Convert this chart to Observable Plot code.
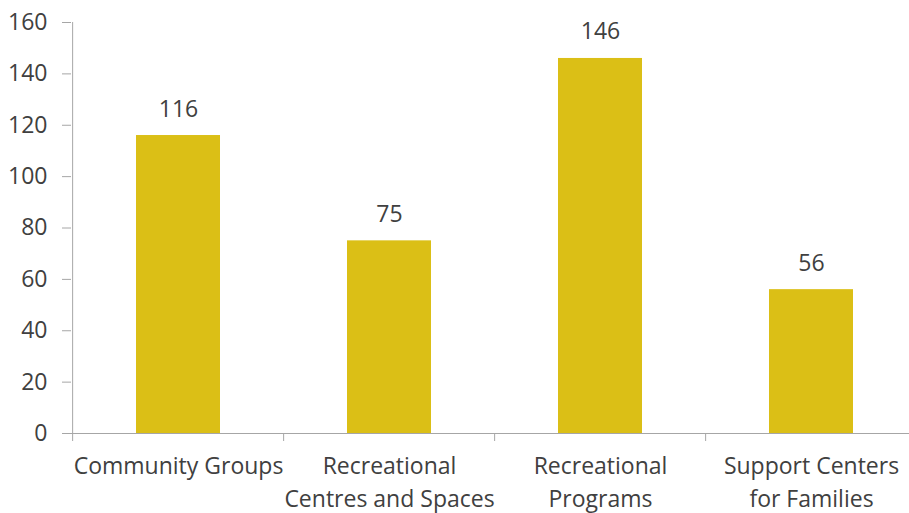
<!DOCTYPE html>
<html><head><meta charset="utf-8">
<script src="https://cdn.jsdelivr.net/npm/d3@7"></script>
<script src="https://cdn.jsdelivr.net/npm/@observablehq/plot@0.6"></script>
<style>
html,body{margin:0;padding:0;background:#fff;overflow:hidden;}
</style></head>
<body><div id="chart"></div>
<script>
const categories = ["Community Groups", "Recreational Centres and Spaces", "Recreational Programs", "Support Centers for Families"];
const tickLabels = ["Community Groups", "Recreational\nCentres and Spaces", "Recreational\nPrograms", "Support Centers\nfor Families"];
const values = [116, 75, 146, 56];
const yTicks = [0, 20, 40, 60, 80, 100, 120, 140, 160];

const data = categories.map((c, i) => ({category: c, value: values[i]}));
const font = "'Open Sans', sans-serif";
const textColor = "#404040";
const axisColor = "#a6a6a6";
const W = 918, ML = 71;
const step = (W - ML) / categories.length;

const chart = Plot.plot({
  width: W,
  height: 513,
  marginLeft: ML,
  marginRight: 0,
  marginTop: 22,
  marginBottom: 80,
  style: {fontFamily: font, color: textColor, background: "#fff", overflow: "visible", maxWidth: "none"},
  x: {type: "band", domain: categories, paddingInner: 0.6, paddingOuter: 0.3, axis: null},
  y: {type: "linear", domain: [0, 160], axis: null},
  marks: [
    Plot.barY(data, {x: "category", y: "value", fill: "#DBBF16"}),
    Plot.text(data, {x: "category", y: "value", text: d => String(d.value), lineAnchor: "bottom", dy: -19, fontSize: 23, fill: textColor}),
    Plot.axisY({ticks: yTicks, tickSize: 9, tickPadding: 15, fontSize: 23, stroke: axisColor, fill: textColor, label: null}),
    Plot.ruleX([categories[0]], {x: d => d, y1: 0, y2: 160, dx: -step / 2, stroke: axisColor}),
    Plot.ruleY([0], {stroke: axisColor}),
    Plot.ruleX(categories, {x: d => d, y1: 0, y2: 0, insetBottom: -8, dx: -step / 2, stroke: axisColor}),
    Plot.axisX({tickSize: 0, tickPadding: 18, fontSize: 23, lineHeight: 1.4, fill: textColor, tickFormat: (d, i) => tickLabels[i], label: null})
  ]
});
document.getElementById("chart").appendChild(chart);
</script>
</body></html>
